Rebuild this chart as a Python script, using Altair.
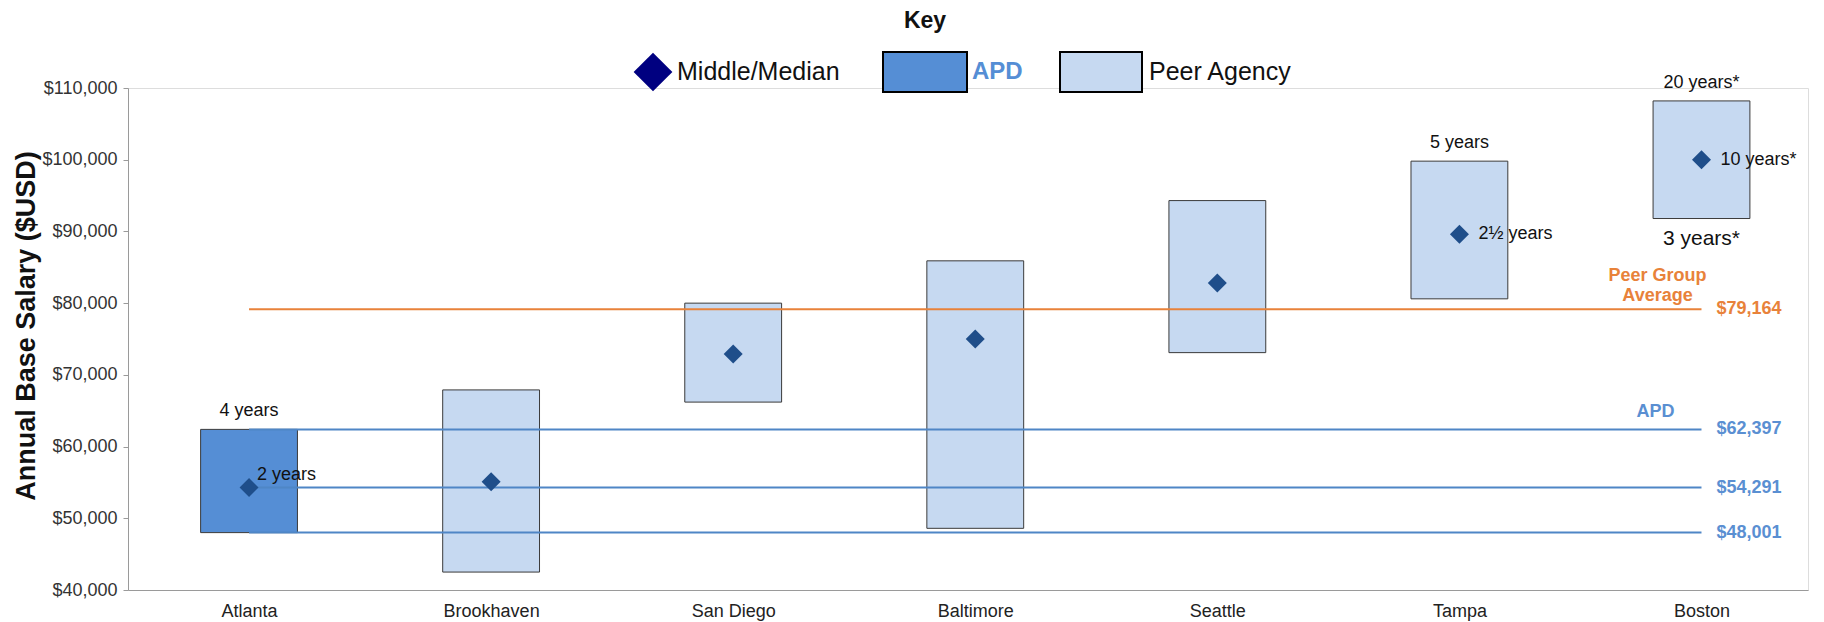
import altair as alt
import pandas as pd

# ---- data ----
cities = ["Atlanta", "Brookhaven", "San Diego", "Baltimore", "Seattle", "Tampa", "Boston"]
groups = ["APD", "Peer Agency", "Peer Agency", "Peer Agency", "Peer Agency", "Peer Agency", "Peer Agency"]
low_vals = [48001, 42500, 66200, 48600, 73100, 80600, 91800]
high_vals = [62397, 67900, 80000, 85900, 94300, 99800, 108200]
mid_vals = [54291, 55100, 72900, 75000, 82800, 89600, 100000]

ref_values = [79164, 62397, 54291, 48001]
ref_kind = ["Peer Group Average", "APD", "APD", "APD"]
ref_titles = ["Peer Group\nAverage", "APD"]

ann_city = ["Atlanta", "Atlanta", "Tampa", "Tampa", "Boston", "Boston", "Boston"]
ann_text = ["4 years", "2 years", "5 years", "2½ years", "20 years*", "10 years*", "3 years*"]
ann_at = ["high", "mid", "high", "mid", "high", "mid", "low"]

legend_labels = ["Middle/Median", "APD", "Peer Agency"]
y_ticks = [40000, 50000, 60000, 70000, 80000, 90000, 100000, 110000]

# ---- tables ----
df = pd.DataFrame({"city": cities, "idx": list(range(len(cities))), "group": groups,
                   "low": low_vals, "high": high_vals, "mid": mid_vals})
last = len(cities) - 1
ref_df = pd.DataFrame({"value": ref_values, "kind": ref_kind, "start": 0, "end": last})
title_df = pd.DataFrame({"title": ref_titles, "value": ref_values[:2], "kind": ref_kind[:2], "end": last})
ann_rows = []
for c, t, a in zip(ann_city, ann_text, ann_at):
    r = df[df.city == c].iloc[0]
    ann_rows.append({"city": c, "idx": int(r.idx), "text": t, "at": a, "value": float(r[a])})
ann_df = pd.DataFrame(ann_rows)
one = pd.DataFrame({"k": [0]})

BLUE_BAR = "#558ED5"
PEER_BAR = "#C6D9F1"
ORANGE = "#E8823A"
BLUE_LINE = "#4F86C6"
BLUE_TXT = "#5A8FD2"
DIAMOND = "#1F4E8A"
FONT = "Liberation Sans"

x_scale = alt.Scale(domain=[-0.5, 6.44], nice=False, zero=False)
y_scale = alt.Scale(domain=[40000, 110000], nice=False, zero=False)
label_expr = "[" + ",".join("'%s'" % c for c in cities) + "][datum.value]"

x_axis = alt.Axis(values=list(range(len(cities))), labelExpr=label_expr, title=None, grid=False,
                  ticks=False, domainColor="#9a9a9a", labelFontSize=18, labelColor="#222222",
                  labelPadding=12, labelFont=FONT)
y_axis = alt.Axis(values=y_ticks, format="$,.0f", title=None, grid=False, tickColor="#9a9a9a",
                  domainColor="#9a9a9a", tickSize=5, labelFontSize=18, labelColor="#333333",
                  labelPadding=6, labelFont=FONT)


def X(field):
    return alt.X(field, scale=x_scale, axis=x_axis)


def Y(field):
    return alt.Y(field, scale=y_scale, axis=y_axis)


bars = alt.Chart(df).transform_calculate(
    x0="datum.idx - 0.2", x1="datum.idx + 0.2"
).mark_bar(stroke="#3a3a3a", strokeWidth=1, opacity=1).encode(
    x=X("x0:Q"), x2="x1:Q", y=Y("low:Q"), y2="high:Q",
    color=alt.condition("datum.group == 'APD'", alt.value(BLUE_BAR), alt.value(PEER_BAR)),
)

rules = alt.Chart(ref_df).mark_rule(strokeWidth=2).encode(
    x=X("start:Q"), x2="end:Q", y=Y("value:Q"),
    color=alt.condition("datum.kind == 'APD'", alt.value(BLUE_LINE), alt.value(ORANGE)),
)

ref_labels = alt.Chart(ref_df).mark_text(align="left", baseline="middle", dx=15, fontSize=18,
                                         fontWeight="bold", font=FONT).encode(
    x=X("end:Q"), y=Y("value:Q"), text=alt.Text("value:Q", format="$,.0f"),
    color=alt.condition("datum.kind == 'APD'", alt.value(BLUE_TXT), alt.value(ORANGE)),
)

peer_title = alt.Chart(title_df).transform_filter("datum.kind != 'APD'").mark_text(
    align="center", baseline="bottom", dx=-44, dy=-24, fontSize=18, fontWeight="bold",
    lineBreak="\n", lineHeight=20, font=FONT, color=ORANGE
).encode(x=X("end:Q"), y=Y("value:Q"), text="title:N")

apd_title = alt.Chart(title_df).transform_filter("datum.kind == 'APD'").mark_text(
    align="center", baseline="bottom", dx=-46, dy=-8, fontSize=18, fontWeight="bold",
    font=FONT, color=BLUE_TXT
).encode(x=X("end:Q"), y=Y("value:Q"), text="title:N")

diamonds = alt.Chart(df).mark_point(shape="diamond", filled=True, size=361, opacity=1,
                                    color=DIAMOND).encode(x=X("idx:Q"), y=Y("mid:Q"))

ann_base = alt.Chart(ann_df)
ann_above = ann_base.transform_filter("datum.at == 'high'").mark_text(
    align="center", baseline="bottom", dy=-9, fontSize=18, font=FONT, color="#111111"
).encode(x=X("idx:Q"), y=Y("value:Q"), text="text:N")
ann_side = ann_base.transform_filter("datum.at == 'mid' && datum.city != 'Atlanta'").mark_text(
    align="left", baseline="middle", dx=19, fontSize=18, font=FONT, color="#111111"
).encode(x=X("idx:Q"), y=Y("value:Q"), text="text:N")
ann_side_atl = ann_base.transform_filter("datum.at == 'mid' && datum.city == 'Atlanta'").mark_text(
    align="left", baseline="middle", dx=8, dy=-13, fontSize=18, font=FONT, color="#111111"
).encode(x=X("idx:Q"), y=Y("value:Q"), text="text:N")
ann_below = ann_base.transform_filter("datum.at == 'low'").mark_text(
    align="center", baseline="top", dy=9, fontSize=21, font=FONT, color="#111111"
).encode(x=X("idx:Q"), y=Y("value:Q"), text="text:N")

# ---- y axis title ----
y_title = alt.Chart(one).mark_text(angle=270, align="center", baseline="alphabetic", fontSize=27,
                                   fontWeight="bold", font=FONT, color="#111111",
                                   text="Annual Base Salary ($USD)").encode(
    x=alt.value(-93), y=alt.value(238))

# ---- key / legend ----
key_title = alt.Chart(one).mark_text(align="center", baseline="middle", fontSize=23, fontWeight="bold",
                                     font=FONT, color="#111111", text="Key").encode(
    x=alt.value(797), y=alt.value(-67))
key_diamond = alt.Chart(one).mark_point(shape="diamond", filled=True, size=1500, opacity=1,
                                        color="#000080").encode(x=alt.value(525), y=alt.value(-16))
key_t1 = alt.Chart(one).mark_text(align="left", baseline="middle", fontSize=25, font=FONT,
                                  color="#111111", text=legend_labels[0]).encode(
    x=alt.value(549), y=alt.value(-16))
key_box1 = alt.Chart(one).mark_rect(fill=BLUE_BAR, stroke="#000000", strokeWidth=2).encode(
    x=alt.value(755), x2=alt.value(839), y=alt.value(-36), y2=alt.value(4))
key_t2 = alt.Chart(one).mark_text(align="left", baseline="middle", fontSize=24, fontWeight="bold",
                                  font=FONT, color=BLUE_BAR, text=legend_labels[1]).encode(
    x=alt.value(844), y=alt.value(-16))
key_box2 = alt.Chart(one).mark_rect(fill=PEER_BAR, stroke="#000000", strokeWidth=2).encode(
    x=alt.value(932), x2=alt.value(1014), y=alt.value(-36), y2=alt.value(4))
key_t3 = alt.Chart(one).mark_text(align="left", baseline="middle", fontSize=25, font=FONT,
                                  color="#111111", text=legend_labels[2]).encode(
    x=alt.value(1021), y=alt.value(-16))

chart = alt.layer(
    bars, rules, diamonds, ref_labels, peer_title, apd_title,
    ann_above, ann_side, ann_side_atl, ann_below,
    y_title, key_title, key_diamond, key_t1, key_box1, key_t2, key_box2, key_t3,
).properties(
    width=1680, height=502,
    autosize=alt.AutoSizeParams(type="none"),
    padding={"left": 120, "top": 80, "right": 8, "bottom": 32},
).configure_view(stroke=None).configure(background="white")

chart.save("out.html", embed_options={"renderer": "svg", "actions": False})
